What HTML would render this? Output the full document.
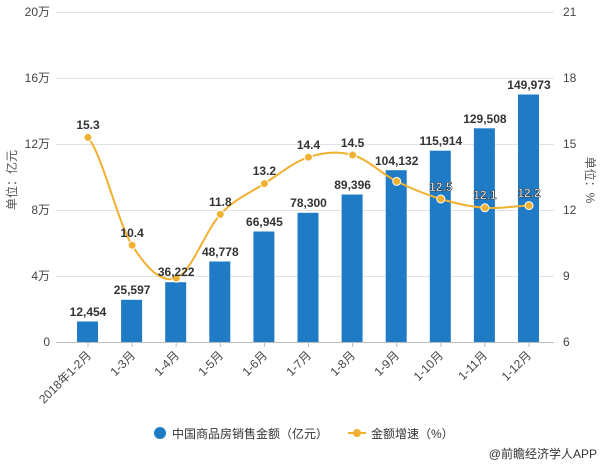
<!DOCTYPE html>
<html><head><meta charset="utf-8"><style>
body{margin:0;background:#fff;}
svg{display:block;font-family:"Liberation Sans","Noto Sans CJK SC",sans-serif;}
</style></head><body>
<svg width="600" height="465" viewBox="0 0 600 465">
<g stroke="#e2e2e2">
<line x1="56" y1="12.5" x2="554" y2="12.5"/>
<line x1="56" y1="78.5" x2="554" y2="78.5"/>
<line x1="56" y1="144.5" x2="554" y2="144.5"/>
<line x1="56" y1="210.5" x2="554" y2="210.5"/>
<line x1="56" y1="276.5" x2="554" y2="276.5"/>
</g>
<g font-size="12" fill="#444">
<text x="50" y="16" text-anchor="end">20万</text>
<text x="50" y="82" text-anchor="end">16万</text>
<text x="50" y="148" text-anchor="end">12万</text>
<text x="50" y="214" text-anchor="end">8万</text>
<text x="50" y="280" text-anchor="end">4万</text>
<text x="50" y="346" text-anchor="end">0</text>
<text x="563" y="16">21</text>
<text x="563" y="82">18</text>
<text x="563" y="148">15</text>
<text x="563" y="214">12</text>
<text x="563" y="280">9</text>
<text x="563" y="346">6</text>
</g>
<text transform="translate(16,180) rotate(-90)" font-size="12" fill="#555" text-anchor="middle">单位：亿元</text>
<text transform="translate(586,180) rotate(90)" font-size="12" fill="#555" text-anchor="middle">单位：%</text>
<line x1="56" y1="342.5" x2="554" y2="342.5" stroke="#bbb"/>
<g stroke="#bbb">
<line x1="88" y1="342" x2="88" y2="347"/><line x1="132.1" y1="342" x2="132.1" y2="347"/><line x1="176.2" y1="342" x2="176.2" y2="347"/><line x1="220.3" y1="342" x2="220.3" y2="347"/><line x1="264.4" y1="342" x2="264.4" y2="347"/><line x1="308.5" y1="342" x2="308.5" y2="347"/><line x1="352.6" y1="342" x2="352.6" y2="347"/><line x1="396.7" y1="342" x2="396.7" y2="347"/><line x1="440.8" y1="342" x2="440.8" y2="347"/><line x1="484.9" y1="342" x2="484.9" y2="347"/><line x1="529" y1="342" x2="529" y2="347"/>
</g>
<g fill="#1f7bc6">
<rect x="77" y="321.5" width="21" height="20.5"/>
<rect x="121.1" y="299.8" width="21" height="42.2"/>
<rect x="165.2" y="282.2" width="21" height="59.8"/>
<rect x="209.3" y="261.5" width="21" height="80.5"/>
<rect x="253.4" y="231.5" width="21" height="110.5"/>
<rect x="297.5" y="212.8" width="21" height="129.2"/>
<rect x="341.6" y="194.5" width="21" height="147.5"/>
<rect x="385.7" y="170.2" width="21" height="171.8"/>
<rect x="429.8" y="150.7" width="21" height="191.3"/>
<rect x="473.9" y="128.3" width="21" height="213.7"/>
<rect x="518" y="94.5" width="21" height="247.5"/>
</g>
<path d="M88,137.4 C102.7,155.4 117.4,221.7 132.1,245.2 C146.8,268.7 161.5,283.3 176.2,278.2 C190.9,273.1 205.6,230.2 220.3,214.4 C235,198.6 249.7,193.1 264.4,183.6 C279.1,174.1 293.8,162 308.5,157.2 C323.2,152.4 337.9,151 352.6,155 C367.3,159 382,174.1 396.7,181.4 C411.4,188.7 426.1,194.6 440.8,199 C455.5,203.4 470.2,206.7 484.9,207.8 C499.6,208.9 514.3,206 529,205.6" fill="none" stroke="#f0b030" stroke-width="2"/>
<g fill="#f0b030" stroke="#fff" stroke-width="1">
<circle cx="88" cy="137.4" r="4"/><circle cx="132.1" cy="245.2" r="4"/><circle cx="176.2" cy="278.2" r="4"/><circle cx="220.3" cy="214.4" r="4"/><circle cx="264.4" cy="183.6" r="4"/><circle cx="308.5" cy="157.2" r="4"/><circle cx="352.6" cy="155" r="4"/><circle cx="396.7" cy="181.4" r="4"/><circle cx="440.8" cy="199" r="4"/><circle cx="484.9" cy="207.8" r="4"/><circle cx="529" cy="205.6" r="4"/>
</g>
<g font-size="12" font-weight="bold" fill="#333" text-anchor="middle">
<text x="88" y="316">12,454</text>
<text x="132.1" y="294">25,597</text>
<text x="176.2" y="276">36,222</text>
<text x="220.3" y="256">48,778</text>
<text x="264.4" y="226">66,945</text>
<text x="308.5" y="207">78,300</text>
<text x="352.6" y="189">89,396</text>
<text x="396.7" y="165">104,132</text>
<text x="440.8" y="145">115,914</text>
<text x="484.9" y="123">129,508</text>
<text x="529" y="89">149,973</text>
<text x="88" y="129">15.3</text>
<text x="132.1" y="237">10.4</text>
<text x="220.3" y="206">11.8</text>
<text x="264.4" y="175">13.2</text>
<text x="308.5" y="149">14.4</text>
<text x="352.6" y="147">14.5</text>
</g>
<g font-size="12" font-weight="bold" fill="#fff" stroke="#333" stroke-width="0.6" text-anchor="middle">
<text x="440.8" y="191">12.5</text>
<text x="484.9" y="199">12.1</text>
<text x="529" y="197">12.2</text>
</g>
<g font-size="12" fill="#444" text-anchor="end">
<text transform="translate(92,356) rotate(-45)">2018年1-2月</text>
<text transform="translate(136,356) rotate(-45)">1-3月</text>
<text transform="translate(180,356) rotate(-45)">1-4月</text>
<text transform="translate(224,356) rotate(-45)">1-5月</text>
<text transform="translate(268,356) rotate(-45)">1-6月</text>
<text transform="translate(312,356) rotate(-45)">1-7月</text>
<text transform="translate(356,356) rotate(-45)">1-8月</text>
<text transform="translate(400,356) rotate(-45)">1-9月</text>
<text transform="translate(444,356) rotate(-45)">1-10月</text>
<text transform="translate(488,356) rotate(-45)">1-11月</text>
<text transform="translate(532,356) rotate(-45)">1-12月</text>
</g>
<circle cx="160" cy="433" r="6" fill="#1f7bc6"/>
<text x="172" y="438" font-size="12" fill="#333">中国商品房销售金额（亿元）</text>
<line x1="348" y1="433" x2="366" y2="433" stroke="#f0b030" stroke-width="2"/>
<circle cx="357" cy="433" r="4" fill="#f0b030"/>
<text x="371" y="438" font-size="12" fill="#333">金额增速（%）</text>
<text x="597" y="458" font-size="12" fill="#333" text-anchor="end">@前瞻经济学人APP</text>
</svg>
</body></html>
